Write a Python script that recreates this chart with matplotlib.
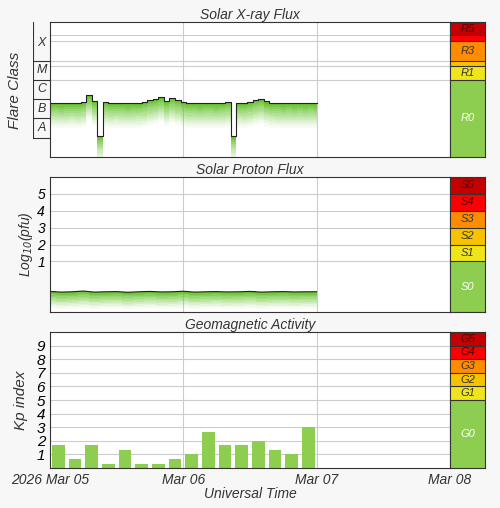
import numpy as np
import matplotlib
matplotlib.use("Agg")
import matplotlib.pyplot as plt

plt.rcParams['font.family'] = ['Liberation Sans', 'DejaVu Sans']
plt.rcParams['font.style'] = 'italic'

# ---- data ----
xray_hours = np.arange(0, 49)
xray_log = [-6.22, -6.2, -6.22, -6.2, -6.18, -6.2, -6.15, -5.8, -6.1, -7.9,
            -6.15, -6.2, -6.18, -6.2, -6.22, -6.2, -6.18, -6.15, -6.05, -6.0,
            -5.9, -6.1, -5.95, -6.05, -6.15, -6.2, -6.2, -6.22, -6.2, -6.2,
            -6.22, -6.2, -6.15, -7.9, -6.18, -6.2, -6.15, -6.05, -6.0, -6.12,
            -6.18, -6.2, -6.22, -6.2, -6.22, -6.2, -6.22, -6.2, -6.22]

proton_hours = np.arange(0, 49, 2)
proton_log = [-0.78, -0.82, -0.8, -0.76, -0.82, -0.8, -0.79, -0.83, -0.8, -0.78,
              -0.81, -0.8, -0.77, -0.82, -0.8, -0.79, -0.81, -0.8, -0.78, -0.82,
              -0.8, -0.79, -0.81, -0.8, -0.8]

kp_hours = np.arange(0, 48, 3) + 1.5
kp_values = [1.67, 0.67, 1.67, 0.33, 1.33, 0.33, 0.33, 0.67, 1.0, 2.67,
             1.67, 1.67, 2.0, 1.33, 1.0, 3.0]

day_ticks = [0, 24, 48, 72]
day_labels = ["2026 Mar 05", "Mar 06", "Mar 07", "Mar 08"]

r_levels = [(-9, -5, "#8dcd4f", "R0", "#ffffff"), (-5, np.log10(5e-5), "#f0e51c", "R1", "#333333"),
            (np.log10(5e-5), -4, "#f7c300", "", "#333333"), (-4, -3, "#ff8c00", "R3", "#333333"),
            (-3, np.log10(2e-3), "#ff0000", "", "#333333"), (np.log10(2e-3), -2, "#c40000", "R5", "#550000")]
s_levels = [(-2, 1, "#8dcd4f", "S0", "#ffffff"), (1, 2, "#f0e51c", "S1", "#333333"),
            (2, 3, "#f7c300", "S2", "#333333"), (3, 4, "#ff8c00", "S3", "#333333"),
            (4, 5, "#ff0000", "S4", "#550000"), (5, 6, "#c40000", "S5", "#550000")]
g_levels = [(0, 5, "#8dcd4f", "G0", "#ffffff"), (5, 6, "#f0e51c", "G1", "#333333"),
            (6, 7, "#f7c300", "G2", "#333333"), (7, 8, "#ff8c00", "G3", "#333333"),
            (8, 9, "#ff0000", "G4", "#550000"), (9, 10, "#c40000", "G5", "#550000")]

green = "#66c22e"
gridc = "#cccccc"

fig = plt.figure(figsize=(5, 5.08), dpi=100)
fig.patch.set_facecolor("#f7f7f7")

W, H = 500, 508
def px_ax(x0, y0, x1, y1):
    return fig.add_axes([x0 / W, 1 - y1 / H, (x1 - x0) / W, (y1 - y0) / H])

def side_bar(y0, y1, levels, lo, hi):
    ax = px_ax(450, y0, 485, y1)
    for a, b, c, lab, tc in levels:
        ax.axhspan(a, b, color=c, lw=0)
        ax.axhline(b, color="#333333", lw=0.8)
        if lab:
            ax.text(0.5, (a + b) / 2, lab, ha="center", va="center", fontsize=8, color=tc)
    ax.set_ylim(lo, hi)
    ax.set_xlim(0, 1)
    ax.set_xticks([]); ax.set_yticks([])
    for s in ax.spines.values():
        s.set_color("#333333")

def gradient(ax, x, v, depth, layers=12):
    v = np.array(v)
    for k in range(layers):
        d = depth * (k + 1) / layers
        ax.fill_between(x, v - d, v - d + depth / layers, color=green,
                        alpha=1.0 * (1 - k / layers) ** 1.3, lw=0, step="mid")

def style_main(ax, lo, hi):
    ax.set_xlim(0, 72)
    ax.set_ylim(lo, hi)
    for t in [24, 48]:
        ax.axvline(t, color=gridc, lw=0.8, zorder=0)
    ax.set_xticks(day_ticks)
    ax.tick_params(length=0, labelsize=10)
    for s in ax.spines.values():
        s.set_color("#333333")

# ---- X-ray ----
ax1 = px_ax(50, 22, 450, 157)
style_main(ax1, -9, -2)
for lv in [-5, np.log10(5e-5), -4, -3, np.log10(2e-3)]:
    ax1.axhline(lv, color=gridc, lw=0.8, zorder=0)
gradient(ax1, xray_hours, xray_log, 1.3)
ax1.step(xray_hours, xray_log, where="mid", color="#222222", lw=0.8)
ax1.set_yticks([]); ax1.set_xticklabels([])
ax1.set_title("Solar X-ray Flux", fontsize=10, pad=2, color="#333333")
side_bar(22, 157, r_levels, -9, -2)

axc = px_ax(33, 22, 50, 157)
axc.set_ylim(-9, -2); axc.set_xlim(0, 1)
axc.axis("off")
axc.plot([0, 0], [-8, -2], color="#333333", lw=0.8)
for b in [-8, -7, -6, -5, -4]:
    axc.plot([0, 1], [b, b], color="#333333", lw=0.8)
for lab, c in zip("ABCMX", [-7.5, -6.5, -5.5, -4.5, -3.1]):
    axc.text(0.5, c, lab, ha="center", va="center", fontsize=9, color="#333333")
fig.text(15 / W, 1 - 90 / H, "Flare Class", rotation=90, ha="center", va="center", fontsize=11, color="#333333")

# ---- Protons ----
ax2 = px_ax(50, 177, 450, 312)
style_main(ax2, -2, 6)
ax2.set_yticks([1, 2, 3, 4, 5])
ax2.grid(axis="y", color=gridc, lw=0.8)
ax2.set_axisbelow(True)
gradient(ax2, proton_hours, proton_log, 1.0)
ax2.plot(proton_hours, proton_log, color="#222222", lw=0.8)
ax2.set_xticklabels([])
ax2.set_ylabel("Log$_{10}$(pfu)", fontsize=10, color="#333333", labelpad=2)
ax2.set_title("Solar Proton Flux", fontsize=10, pad=2, color="#333333")
side_bar(177, 312, s_levels, -2, 6)

# ---- Kp ----
ax3 = px_ax(50, 332, 450, 468)
style_main(ax3, 0, 10)
ax3.set_yticks(range(1, 10))
ax3.grid(axis="y", color=gridc, lw=0.8)
ax3.set_axisbelow(True)
ax3.bar(kp_hours, kp_values, width=2.3, color="#8dcd4f", zorder=2)
ax3.set_xticklabels(day_labels, fontsize=10, color="#333333")
ax3.tick_params(axis="y", labelsize=11)
ax3.set_ylabel("Kp index", fontsize=11, color="#333333", labelpad=6)
ax3.set_xlabel("Universal Time", fontsize=10, color="#333333", labelpad=0)
ax3.set_title("Geomagnetic Activity", fontsize=10, pad=2, color="#333333")
side_bar(332, 468, g_levels, 0, 10)

fig.savefig("out.png", dpi=100, facecolor=fig.get_facecolor())
